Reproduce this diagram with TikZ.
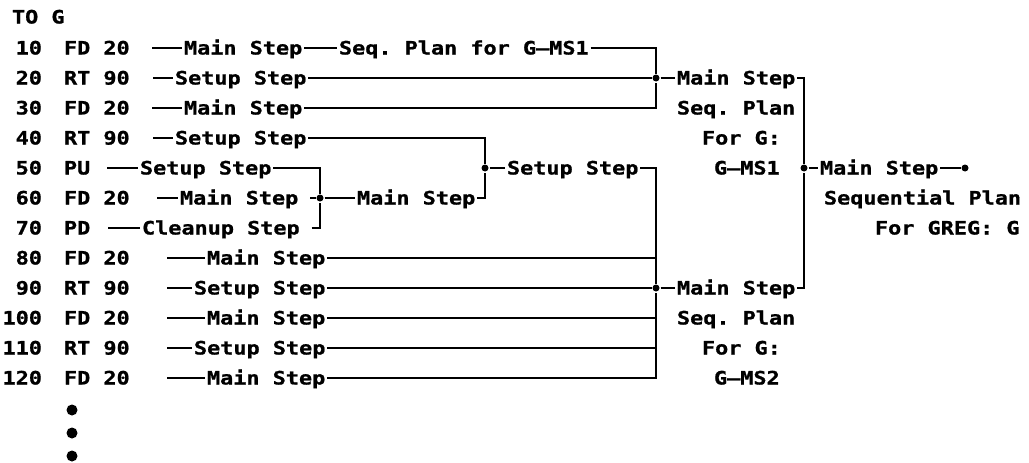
\documentclass[tikz,border=0pt]{standalone}
\usepackage{fontspec}
\newfontfamily\planfont[FakeStretch=1.18,BoldFeatures={FakeBold=1}]{DejaVu Sans Mono}
\begin{document}
\begin{tikzpicture}[x=1pt,y=-1pt,line width=2pt,
  every node/.style={font=\planfont\bfseries\fontsize{18.5}{20}\selectfont\frenchspacing,inner sep=1pt,text height=13pt,text depth=0pt},
  jdot/.style={circle,fill,inner sep=0pt,minimum size=7pt,text height=0pt},
  bdot/.style={circle,fill,inner sep=0pt,minimum size=11pt,text height=0pt}]
\useasboundingbox (0,0) rectangle (1029,463);
% program lines of TO G
\node[anchor=west] (title) at (10,17) {TO G};
\foreach \k/\n/\c in {1/10/FD 20,2/20/RT 90,3/30/FD 20,4/40/RT 90,5/50/PU,6/60/FD 20,7/70/PD,8/80/FD 20,9/90/RT 90,10/100/FD 20,11/110/RT 90,12/120/FD 20}{
  \node[anchor=east] (n\k) at (44,{18+30*\k}) {\n};
  \node[anchor=west] (c\k) at (62,{18+30*\k}) {\c};
}
\foreach \y [count=\i] in {410,433,456} \node[bdot] (e\i) at (72,\y) {};
% step of each line
\node[anchor=west] (m1) at (182,48) {Main Step};
\node[anchor=west] (sq1) at (337,48) {Seq. Plan for G–MS1};
\node[anchor=west] (s2) at (173,78) {Setup Step};
\node[anchor=west] (m3) at (182,108) {Main Step};
\node[anchor=west] (s4) at (173,138) {Setup Step};
\node[anchor=west] (s5) at (138,168) {Setup Step};
\node[anchor=west] (m6) at (178,198) {Main Step};
\node[anchor=west] (cu7) at (140,228) {Cleanup Step};
\node[anchor=west] (m8) at (205,258) {Main Step};
\node[anchor=west] (s9) at (192,288) {Setup Step};
\node[anchor=west] (m10) at (205,318) {Main Step};
\node[anchor=west] (s11) at (192,348) {Setup Step};
\node[anchor=west] (m12) at (205,378) {Main Step};
\foreach \k/\x in {1/152,2/153,3/152,4/153,5/107,6/157,7/108,8/167,9/167,10/167,11/167,12/167}
  \coordinate (a\k) at (\x,{18+30*\k});
% junctions
\node[jdot] (jA) at (656,78) {};
\node[jdot] (jC) at (485,168) {};
\node[jdot] (jD) at (320,198) {};
\node[jdot] (jE) at (656,288) {};
\node[jdot] (jF) at (804,168) {};
\node[jdot] (jG) at (965,168) {};
% plan labels
\node[anchor=west] (pA) at (675,78) {Main Step};
\node[anchor=west] (qA1) at (675,108) {Seq. Plan};
\node[anchor=west] (qA2) at (700,138) {For G:};
\node[anchor=west] (qA3) at (712,168) {G–MS1};
\node[anchor=west] (pC) at (505,168) {Setup Step};
\node[anchor=west] (pD) at (355,198) {Main Step};
\node[anchor=west] (pE) at (675,288) {Main Step};
\node[anchor=west] (qE1) at (675,318) {Seq. Plan};
\node[anchor=west] (qE2) at (700,348) {For G:};
\node[anchor=west] (qE3) at (712,378) {G–MS2};
\node[anchor=west] (pF) at (818,168) {Main Step};
\node[anchor=west] (qF1) at (822,198) {Sequential Plan};
\node[anchor=west] (qF2) at (873,228) {For GREG: G};
% connectors
\foreach \k/\t in {1/m1,2/s2,3/m3,4/s4,5/s5,6/m6,7/cu7,8/m8,9/s9,10/m10,11/s11,12/m12}
  \draw (a\k) -- (\t.west);
\draw (m1.east) -- (sq1.west);
\draw (sq1.east) -| (jA);
\draw (s2.east) -- (jA);
\draw (m3.east) -| (jA);
\draw (jA) -- (pA.west);
\draw (pA.east) -| (jF);
\draw (s4.east) -| (jC);
\draw (s5.east) -| (jD);
\draw[shorten <=10pt] (m6.east) -- (jD);
\draw[shorten <=10pt] (cu7.east) -| (jD);
\draw (jD) -- (pD.west);
\draw (pD.east) -| (jC);
\draw (jC) -- (pC.west);
\draw (pC.east) -| (jE);
\draw (m12.east) -| (jE);
\foreach \t in {m8,m10,s11} \draw (\t.east) -- (\t.east -| jE);
\draw (s9.east) -- (jE);
\draw (jE) -- (pE.west);
\draw (pE.east) -| (jF);
\draw (jF) -- (pF.west);
\draw (pF.east) -- (jG);
\end{tikzpicture}
\end{document}
